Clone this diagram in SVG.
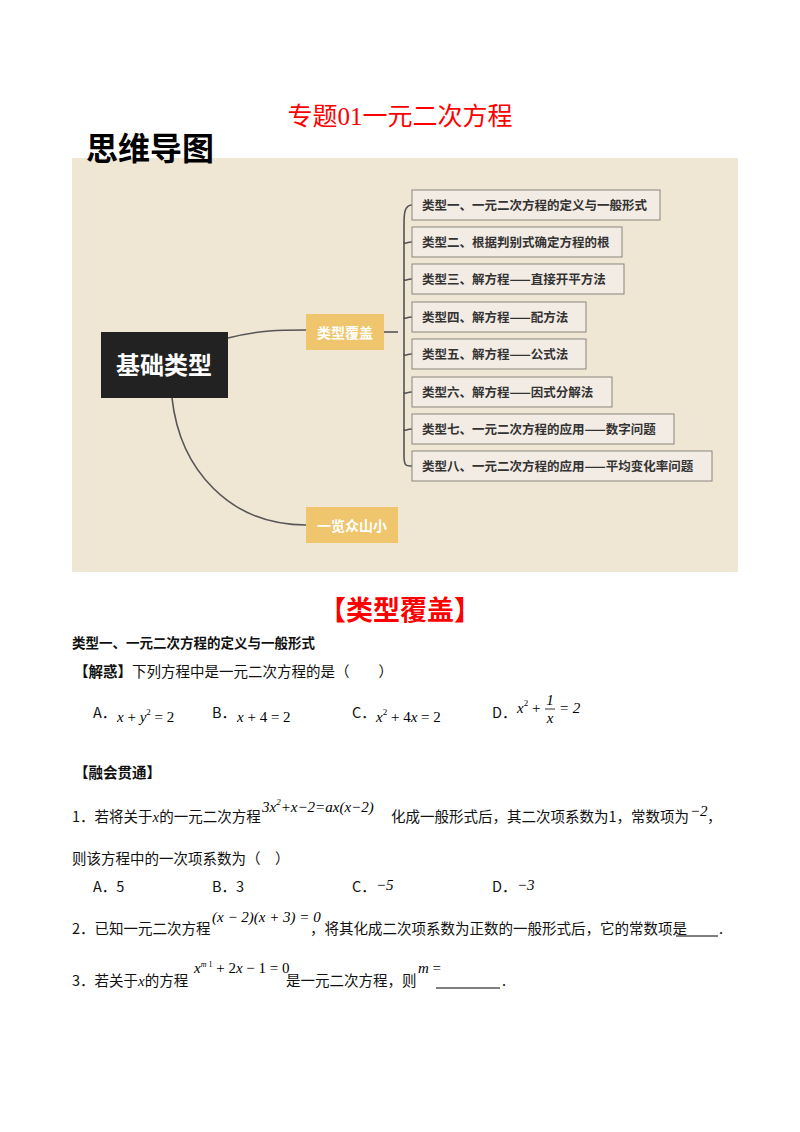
<svg xmlns="http://www.w3.org/2000/svg" width="800" height="1132" viewBox="0 0 800 1132">
<style>
.cn{font-family:"Liberation Serif","Noto Sans CJK SC",serif;}
.sb{font-family:"Noto Sans CJK SC",sans-serif;font-weight:bold;}
.br rect{fill:#f3ece4;stroke:#8a857e;stroke-width:1;}
.br text{font-family:"Noto Sans CJK SC",sans-serif;font-weight:bold;font-size:12.5px;fill:#333;}
.m{font-family:"Liberation Serif",serif;font-style:italic;font-size:15px;}
.t{font-family:"Noto Sans CJK SC",sans-serif;font-size:14.5px;fill:#111;}
.con{fill:none;stroke:#555;stroke-width:1.6;}
</style>
<rect width="800" height="1132" fill="#fff"/>
<text x="400" y="125" text-anchor="middle" class="cn" font-size="25" fill="#f00">专题01一元二次方程</text>
<rect x="72" y="158" width="666" height="414" fill="#efe6d4"/>
<text x="86" y="160" class="sb" font-size="32" fill="#000">思维导图</text>
<g id="connectors">
<path class="con" d="M228,338 C260,330 280,330 306,330"/>
<path class="con" d="M172,398 C180,470 230,525 306,525"/>
<path class="con" d="M384,332 L398,332"/>
<path class="con" d="M412,205 C404,205 404,215 404,225 L404,456 C404,466 406,466 412,466"/>
<path class="con" d="M404,242 C404,245 406,242 412,242 M404,279 C404,282 406,279 412,279 M404,317 C404,320 406,317 412,317 M404,354 C404,357 406,354 412,354 M404,392 C404,395 406,392 412,392 M404,429 C404,432 406,429 412,429"/>
</g>
<g id="root"><rect x="101" y="332" width="127" height="66" fill="#222"/><text x="164" y="374" text-anchor="middle" class="sb" font-size="24" fill="#fff">基础类型</text></g>
<g id="cover"><rect x="306" y="314" width="78" height="36" fill="#efc56d"/><text x="345" y="338" text-anchor="middle" class="sb" font-size="14" fill="#fff">类型覆盖</text></g>
<g id="overview"><rect x="306" y="507" width="92" height="36" fill="#efc56d"/><text x="352" y="531" text-anchor="middle" class="sb" font-size="14" fill="#fff">一览众山小</text></g>
<g id="b1" class="br"><rect x="412" y="190" width="248" height="30"/><text x="422" y="210">类型一、一元二次方程的定义与一般形式</text></g>
<g id="b2" class="br"><rect x="412" y="227" width="210" height="30"/><text x="422" y="247">类型二、根据判别式确定方程的根</text></g>
<g id="b3" class="br"><rect x="412" y="264" width="212" height="30"/><text x="422" y="284">类型三、解方程——直接开平方法</text></g>
<g id="b4" class="br"><rect x="412" y="302" width="174" height="30"/><text x="422" y="322">类型四、解方程——配方法</text></g>
<g id="b5" class="br"><rect x="412" y="339" width="174" height="30"/><text x="422" y="359">类型五、解方程——公式法</text></g>
<g id="b6" class="br"><rect x="412" y="377" width="200" height="30"/><text x="422" y="397">类型六、解方程——因式分解法</text></g>
<g id="b7" class="br"><rect x="412" y="414" width="262" height="30"/><text x="422" y="434">类型七、一元二次方程的应用——数字问题</text></g>
<g id="b8" class="br"><rect x="412" y="451" width="300" height="30"/><text x="422" y="471">类型八、一元二次方程的应用——平均变化率问题</text></g>
<text x="400" y="620" text-anchor="middle" class="sb" font-size="27" fill="#f00">【类型覆盖】</text>
<text x="72" y="648" class="sb" font-size="13.5" fill="#111">类型一、一元二次方程的定义与一般形式</text>
<text x="74" y="677" class="t"><tspan font-weight="bold">【解惑】</tspan>下列方程中是一元二次方程的是（　　）</text>
<text x="93" y="718" class="t">A．</text><text x="117" y="722" class="m">x<tspan font-style="normal"> + </tspan>y<tspan font-size="9" dy="-7" font-style="normal">2</tspan><tspan dy="7" font-style="normal"> = 2</tspan></text>
<text x="212" y="718" class="t">B．</text><text x="237" y="722" class="m">x<tspan font-style="normal"> + 4 = 2</tspan></text>
<text x="352" y="718" class="t">C．</text><text x="376" y="722" class="m">x<tspan font-size="9" dy="-7" font-style="normal">2</tspan><tspan dy="7" font-style="normal"> + 4</tspan>x<tspan font-style="normal"> = 2</tspan></text>
<text x="492" y="718" class="t">D．</text><text x="517" y="713" class="m">x<tspan font-size="9" dy="-7" font-style="normal">2</tspan><tspan dy="7" font-style="normal"> +</tspan></text>
<text x="550" y="705" class="m" font-style="normal" font-size="13" text-anchor="middle">1</text><line x1="545" y1="709" x2="555" y2="709" stroke="#000" stroke-width="0.8"/><text x="550" y="723" class="m" font-size="13" text-anchor="middle">x</text>
<text x="559" y="713" class="m" font-style="normal">= 2</text>
<text x="74" y="778" class="t" font-weight="bold">【融会贯通】</text>
<text x="72" y="822" class="t">1．若将关于<tspan class="m" font-size="14">x</tspan>的一元二次方程</text>
<text x="262" y="812" class="m" font-style="normal" font-size="14">3<tspan font-style="italic">x</tspan><tspan font-size="9" dy="-7">2</tspan><tspan dy="7">+</tspan><tspan font-style="italic">x</tspan>−2=<tspan font-style="italic">ax</tspan>(<tspan font-style="italic">x</tspan>−2)</text>
<text x="391" y="822" class="t">化成一般形式后，其二次项系数为1，常数项为</text><text x="690" y="816" class="m" font-style="normal">−2</text><text x="707" y="822" class="t">，</text>
<text x="72" y="864" class="t">则该方程中的一次项系数为（　）</text>
<text x="93" y="892" class="t">A．5</text><text x="212" y="892" class="t">B．3</text><text x="352" y="892" class="t">C．</text><text x="376" y="890" class="m" font-style="normal">−5</text><text x="492" y="892" class="t">D．</text><text x="517" y="890" class="m" font-style="normal">−3</text>
<text x="72" y="934" class="t">2．已知一元二次方程</text>
<text x="212" y="922" class="m" font-style="normal" font-size="14">(<tspan font-style="italic">x</tspan> − 2)(<tspan font-style="italic">x</tspan> + 3) = 0</text>
<text x="310" y="934" class="t">，将其化成二次项系数为正数的一般形式后，它的常数项是</text>
<line x1="676" y1="936" x2="718" y2="936" stroke="#000" stroke-width="1"/><text x="719" y="934" class="t">.</text>
<text x="72" y="986" class="t">3．若关于<tspan class="m" font-size="14">x</tspan>的方程</text>
<text x="194" y="973" class="m">x<tspan font-size="8" dy="-6">m</tspan><tspan font-size="8" font-style="normal"> 1</tspan><tspan dy="6" font-style="normal"> + 2</tspan>x<tspan font-style="normal"> − 1 = 0</tspan></text>
<text x="286" y="986" class="t">是一元二次方程，则</text><text x="418" y="973" class="m">m<tspan font-style="normal"> =</tspan></text>
<line x1="436" y1="988" x2="500" y2="988" stroke="#000" stroke-width="1"/><text x="502" y="986" class="t">.</text>
</svg>
